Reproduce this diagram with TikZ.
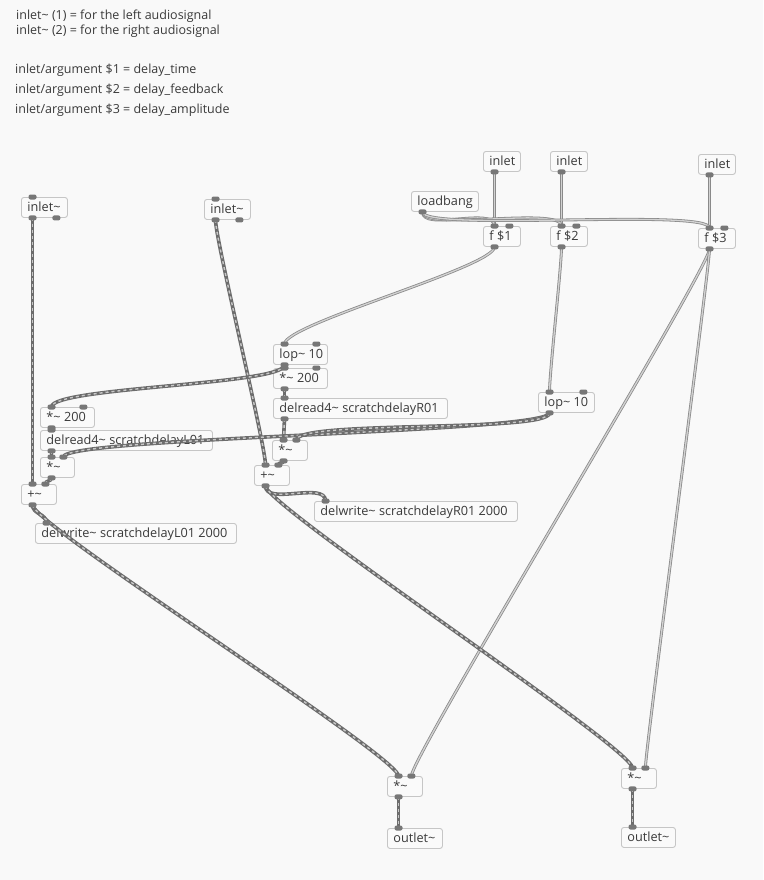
\documentclass[tikz,border=0pt]{standalone}
\usepackage{fontspec}
\setmainfont{Open Sans}
\definecolor{bgc}{HTML}{F9F9F9}
\definecolor{boxc}{HTML}{C6C6C6}
\definecolor{boxf}{HTML}{FAFAFA}
\definecolor{txtc}{HTML}{3A3A3A}
\definecolor{blobc}{HTML}{777777}
\definecolor{ctlout}{HTML}{8A8A8A}
\definecolor{ctlin}{HTML}{D2D2D2}
\definecolor{sigout}{HTML}{6C6C6C}
\definecolor{sigin}{HTML}{C8C8C8}
\newcommand\pdt{\textasciitilde}
\tikzset{
  obj/.style={draw=boxc, fill=boxf, line width=0.9pt, rounded corners=2.5pt,
    inner sep=0pt, minimum height=20pt, anchor=north west, text=txtc,
    font=\fontsize{12.7}{14}\selectfont, text height=10pt, text depth=1.5pt},
  note/.style={anchor=base west, text=txtc, inner sep=0pt,
    font=\fontsize{12.5}{14}\selectfont},
  ctl/.style={draw=ctlout, line width=0.8pt, double=ctlin, double distance=1.3pt},
  sig/.style={draw=sigout, line width=3.6pt,
    postaction={draw=sigin, line width=1.4pt, dash pattern=on 3pt off 3pt}},
  blob/.style={fill=blobc, rounded corners=2pt},
}
\newcommand\pdbox[5]{%
  \node[obj] (#1) at (#2,#3) {\makebox[#4pt][l]{\hspace{6pt}#5}};
  \coordinate (#1-i) at ([xshift=11.5pt]#1.north west);
  \coordinate (#1-j) at ([xshift=-11.5pt]#1.north east);
  \coordinate (#1-o) at ([xshift=11.5pt]#1.south west);
  \coordinate (#1-p) at ([xshift=-11.5pt]#1.south east);
}
\newcommand\conn[4]{\draw[#1] (#2) .. controls +(0,#4) and +(0,-#4) .. (#3);}
\newcommand\blob[1]{\fill[blob] ([shift={(-4pt,-2.5pt)}]#1) rectangle ([shift={(4pt,2.5pt)}]#1);}
\begin{document}
\begin{tikzpicture}[x=1pt,y=-1pt]
\fill[bgc] (0,0) rectangle (763,880);
\useasboundingbox (0,0) rectangle (763,880);
% comments
\node[note] (c1) at (16,19.3) {inlet\pdt{} (1) = for the left audiosignal};
\node[note] (c2) at (16,35) {inlet\pdt{} (2) = for the right audiosignal};
\node[note] (c3) at (15,74) {inlet/argument \$1 = delay\_time};
\node[note] (c4) at (15,94) {inlet/argument \$2 = delay\_feedback};
\node[note] (c5) at (15,113.3) {inlet/argument \$3 = delay\_amplitude};
% boxes
\pdbox{inL}{21}{197}{46}{inlet\pdt}
\pdbox{inR}{204}{199}{46}{inlet\pdt}
\pdbox{inA}{483}{151}{37}{inlet}
\pdbox{inB}{550}{151}{37}{inlet}
\pdbox{inC}{698}{154}{37}{inlet}
\pdbox{lb}{411}{191}{67}{loadbang}
\pdbox{fA}{483}{226}{37}{f \$1}
\pdbox{fB}{550}{226}{37}{f \$2}
\pdbox{fC}{698}{228}{37}{f \$3}
\pdbox{lopL}{273}{344}{54}{lop\pdt{} 10}
\pdbox{mulA}{273}{368}{54}{*\pdt{} 200}
\pdbox{drR}{273}{398}{174}{delread4\pdt{} scratchdelayR01}
\pdbox{mulB}{40}{407}{54}{*\pdt{} 200}
\pdbox{drL}{40}{430}{172}{delread4\pdt{} scratchdelayL01}
\pdbox{mulL}{40}{457}{34}{*\pdt}
\pdbox{addL}{21}{484}{35}{+\pdt}
\pdbox{dwL}{35}{523}{201}{delwrite\pdt{} scratchdelayL01 2000}
\pdbox{lopR}{538}{392}{56}{lop\pdt{} 10}
\pdbox{mulR}{272}{440}{35}{*\pdt}
\pdbox{addR}{254}{465}{35}{+\pdt}
\pdbox{dwR}{314}{501}{203}{delwrite\pdt{} scratchdelayR01 2000}
\pdbox{mulOL}{387}{776}{35}{*\pdt}
\pdbox{outL}{387}{828}{55}{outlet\pdt}
\pdbox{mulOR}{621}{768}{35}{*\pdt}
\pdbox{outR}{621}{827}{54}{outlet\pdt}
% control connections
\conn{ctl}{inA-o}{fA-i}{20}
\conn{ctl}{inB-o}{fB-i}{20}
\conn{ctl}{inC-o}{fC-i}{20}
\conn{ctl}{lb-o}{fA-i}{20}
\conn{ctl}{lb-o}{fB-i}{20}
\conn{ctl}{lb-o}{fC-i}{20}
\conn{ctl}{fA-o}{lopL-i}{20}
\conn{ctl}{fB-o}{lopR-i}{20}
\conn{ctl}{fC-o}{mulOL-j}{20}
\conn{ctl}{fC-o}{mulOR-j}{20}
% signal connections
\conn{sig}{inL-o}{addL-i}{20}
\conn{sig}{inR-o}{addR-i}{20}
\conn{sig}{lopL-o}{mulA-i}{2}
\conn{sig}{lopL-o}{mulB-i}{20}
\conn{sig}{mulA-o}{drR-i}{5}
\conn{sig}{mulB-o}{drL-i}{1.5}
\conn{sig}{drL-o}{mulL-i}{3.5}
\conn{sig}{drR-o}{mulR-i}{11}
\conn{sig}{lopR-o}{mulL-j}{20}
\conn{sig}{lopR-o}{mulR-j}{20}
\conn{sig}{mulL-o}{addL-j}{3.5}
\conn{sig}{mulR-o}{addR-j}{3}
\conn{sig}{addL-o}{dwL-i}{9.5}
\conn{sig}{addL-o}{mulOL-i}{20}
\conn{sig}{addR-o}{dwR-i}{20}
\conn{sig}{addR-o}{mulOR-i}{20}
\conn{sig}{mulOL-o}{outL-i}{16}
\conn{sig}{mulOR-o}{outR-i}{19.5}
% inlets / outlets
\foreach \c in {inL-i,inL-o,inL-p,inR-i,inR-o,inR-p,inA-o,inB-o,inC-o,lb-o,
  fA-i,fA-j,fA-o,fB-i,fB-j,fB-o,fC-i,fC-j,fC-o,
  lopL-i,lopL-j,lopL-o,mulA-i,mulA-j,mulA-o,drR-i,drR-o,
  mulB-i,mulB-j,mulB-o,drL-i,drL-o,mulL-i,mulL-j,mulL-o,
  addL-i,addL-j,addL-o,dwL-i,lopR-i,lopR-j,lopR-o,
  mulR-i,mulR-j,mulR-o,addR-i,addR-j,addR-o,dwR-i,
  mulOL-i,mulOL-j,mulOL-o,outL-i,mulOR-i,mulOR-j,mulOR-o,outR-i}
  {\blob{\c}}
\end{tikzpicture}
\end{document}
